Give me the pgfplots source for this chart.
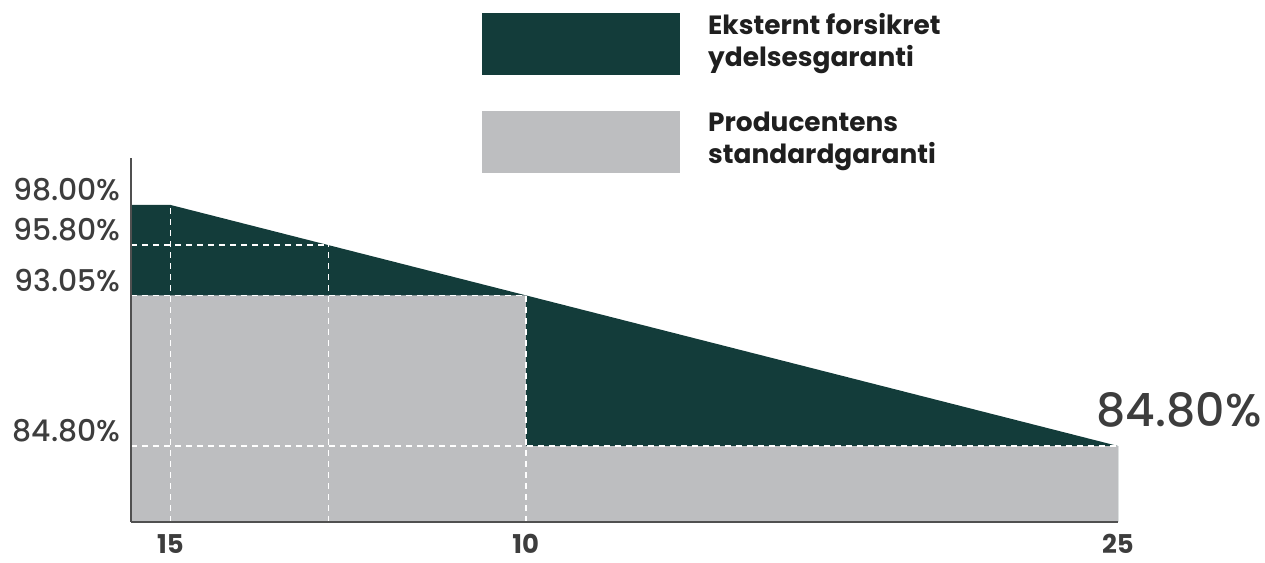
\documentclass[border=0pt]{standalone}
\usepackage{fontspec}
\setmainfont{Poppins}
\newfontfamily\medfont{Poppins Medium}
\usepackage{pgfplots}
\pgfplotsset{compat=1.18}
\definecolor{dkgreen}{HTML}{133C3A}
\definecolor{ltgray}{HTML}{BDBEC0}
\definecolor{axgray}{HTML}{505050}
\definecolor{txtgray}{HTML}{3D3D3D}
\definecolor{lgtxt}{HTML}{1F1F1F}
\begin{document}
\begin{tikzpicture}[x=1bp,y=1bp]
\path[use as bounding box] (0,0) rectangle (1265,563);
\begin{axis}[
  at={(131bp,41bp)}, anchor=south west,
  scale only axis, width=987bp, height=364bp,
  xmin=0, xmax=25, ymin=80.64, ymax=100.57,
  axis x line=bottom, axis y line=left,
  axis line style={-, axgray, line width=1.5bp},
  axis on top,
  major tick length=0pt,
  xtick={1,10,25}, xticklabels={15,10,25},
  ytick={84.8,93.05,95.8,98},
  yticklabels={84.80\%,93.05\%,95.80\%,98.00\%},
  /pgf/number format/assume math mode=true,
  xticklabel style={font=\fontsize{26}{28}\selectfont\bfseries, text=txtgray, inner sep=0pt, anchor=north, yshift=-12bp},
  yticklabel style={font=\fontsize{30}{32}\selectfont\medfont, text=txtgray, anchor=east, xshift=-7bp, yshift=15bp},
]
\addplot[fill=dkgreen, draw=none] coordinates {(0,98) (1,98) (25,84.8) (25,80.64) (0,80.64)} -- cycle;
\addplot[fill=ltgray, draw=none] coordinates {(0,80.64) (0,93.05) (10,93.05) (10,84.8) (25,84.8) (25,80.64)} -- cycle;
\addplot[white, line width=1.5bp, dash pattern=on 6bp off 5bp] coordinates {(1,80.64) (1,98)};
\addplot[white, line width=1.5bp, dash pattern=on 6bp off 5bp] coordinates {(5,80.64) (5,95.8)};
\addplot[white, line width=1.5bp, dash pattern=on 6bp off 5bp] coordinates {(0,95.8) (5,95.8)};
\addplot[white, line width=1.5bp, dash pattern=on 6bp off 5bp] coordinates {(0,93.05) (10,93.05)};
\addplot[white, line width=1.5bp, dash pattern=on 6bp off 5bp] coordinates {(10,80.64) (10,93.05)};
\addplot[white, line width=1.5bp, dash pattern=on 6bp off 5bp] coordinates {(0,84.8) (25,84.8)};
\end{axis}
\fill[dkgreen] (482,488) rectangle (680,550);
\fill[ltgray] (482,390) rectangle (680,452);
\node[anchor=west, align=left, inner sep=0pt, text=lgtxt, font=\fontsize{26.5}{32}\selectfont\bfseries] at (708,519) {Eksternt forsikret\\ydelsesgaranti};
\node[anchor=west, align=left, inner sep=0pt, text=lgtxt, font=\fontsize{26.5}{32}\selectfont\bfseries] at (708,422) {Producentens\\standardgaranti};
\node[text=txtgray, inner sep=0pt, font=\fontsize{46}{50}\selectfont\medfont] at (1179,153) {84.80\%};
\end{tikzpicture}
\end{document}
